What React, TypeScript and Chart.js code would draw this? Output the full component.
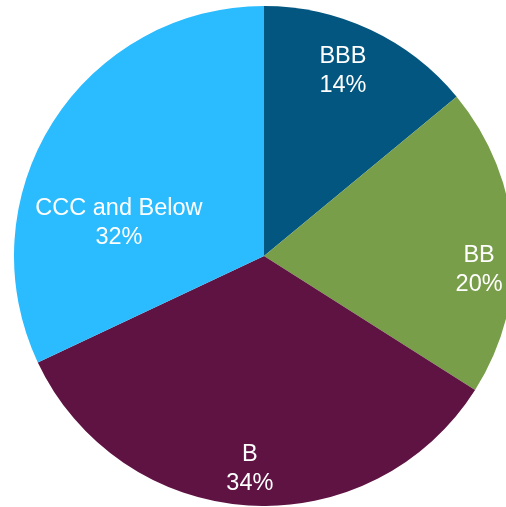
import React, { useEffect, useRef } from "react";
import { Chart, registerables } from "chart.js";

Chart.register(...registerables);

const categories = ["BBB", "BB", "B", "CCC and Below"];
const shares = [14, 20, 34, 32];
const colors = ["#02567F", "#799E4A", "#5F1342", "#2BBBFF"];

// label placement: angle from top (deg, clockwise) and fraction of radius
const labelAngles = [23.1, 93.6, 183.8, 282.8];
const labelRadii = [0.805, 0.862, 0.854, 0.595];

const labelPlugin = {
  id: "pieLabels",
  afterDatasetsDraw(chart: any) {
    const ctx = chart.ctx;
    const meta = chart.getDatasetMeta(0);
    const arc0 = meta.data[0];
    if (!arc0) return;
    const cx = arc0.x;
    const cy = arc0.y;
    const r = arc0.outerRadius;
    ctx.save();
    ctx.fillStyle = "#ffffff";
    ctx.font = "23.5px 'Liberation Sans', Arial, sans-serif";
    ctx.textAlign = "center";
    ctx.textBaseline = "middle";
    categories.forEach((c, i) => {
      const a = (labelAngles[i] * Math.PI) / 180;
      const x = cx + Math.sin(a) * r * labelRadii[i];
      const y = cy - Math.cos(a) * r * labelRadii[i];
      ctx.fillText(c, x, y - 14.5);
      ctx.fillText(shares[i] + "%", x, y + 14.5);
    });
    ctx.restore();
  },
};

export default function App() {
  const ref = useRef<HTMLCanvasElement>(null);
  useEffect(() => {
    if (!ref.current) return;
    const chart = new Chart(ref.current, {
      type: "pie",
      data: {
        labels: categories,
        datasets: [
          {
            data: shares,
            backgroundColor: colors,
            borderWidth: 0,
          },
        ],
      },
      options: {
        responsive: false,
        animation: false,
        layout: { padding: 0 },
        plugins: {
          legend: { display: false },
          tooltip: { enabled: false },
        },
      },
      plugins: [labelPlugin],
    });
    return () => chart.destroy();
  }, []);
  return (
    <div
      style={{
        position: "fixed",
        left: 0,
        top: 0,
        width: 506,
        height: 507,
        overflow: "hidden",
        background: "#ffffff",
      }}
    >
      <canvas
        ref={ref}
        width={500}
        height={500}
        style={{ position: "absolute", left: 14, top: 6, width: 500, height: 500 }}
      />
    </div>
  );
}
